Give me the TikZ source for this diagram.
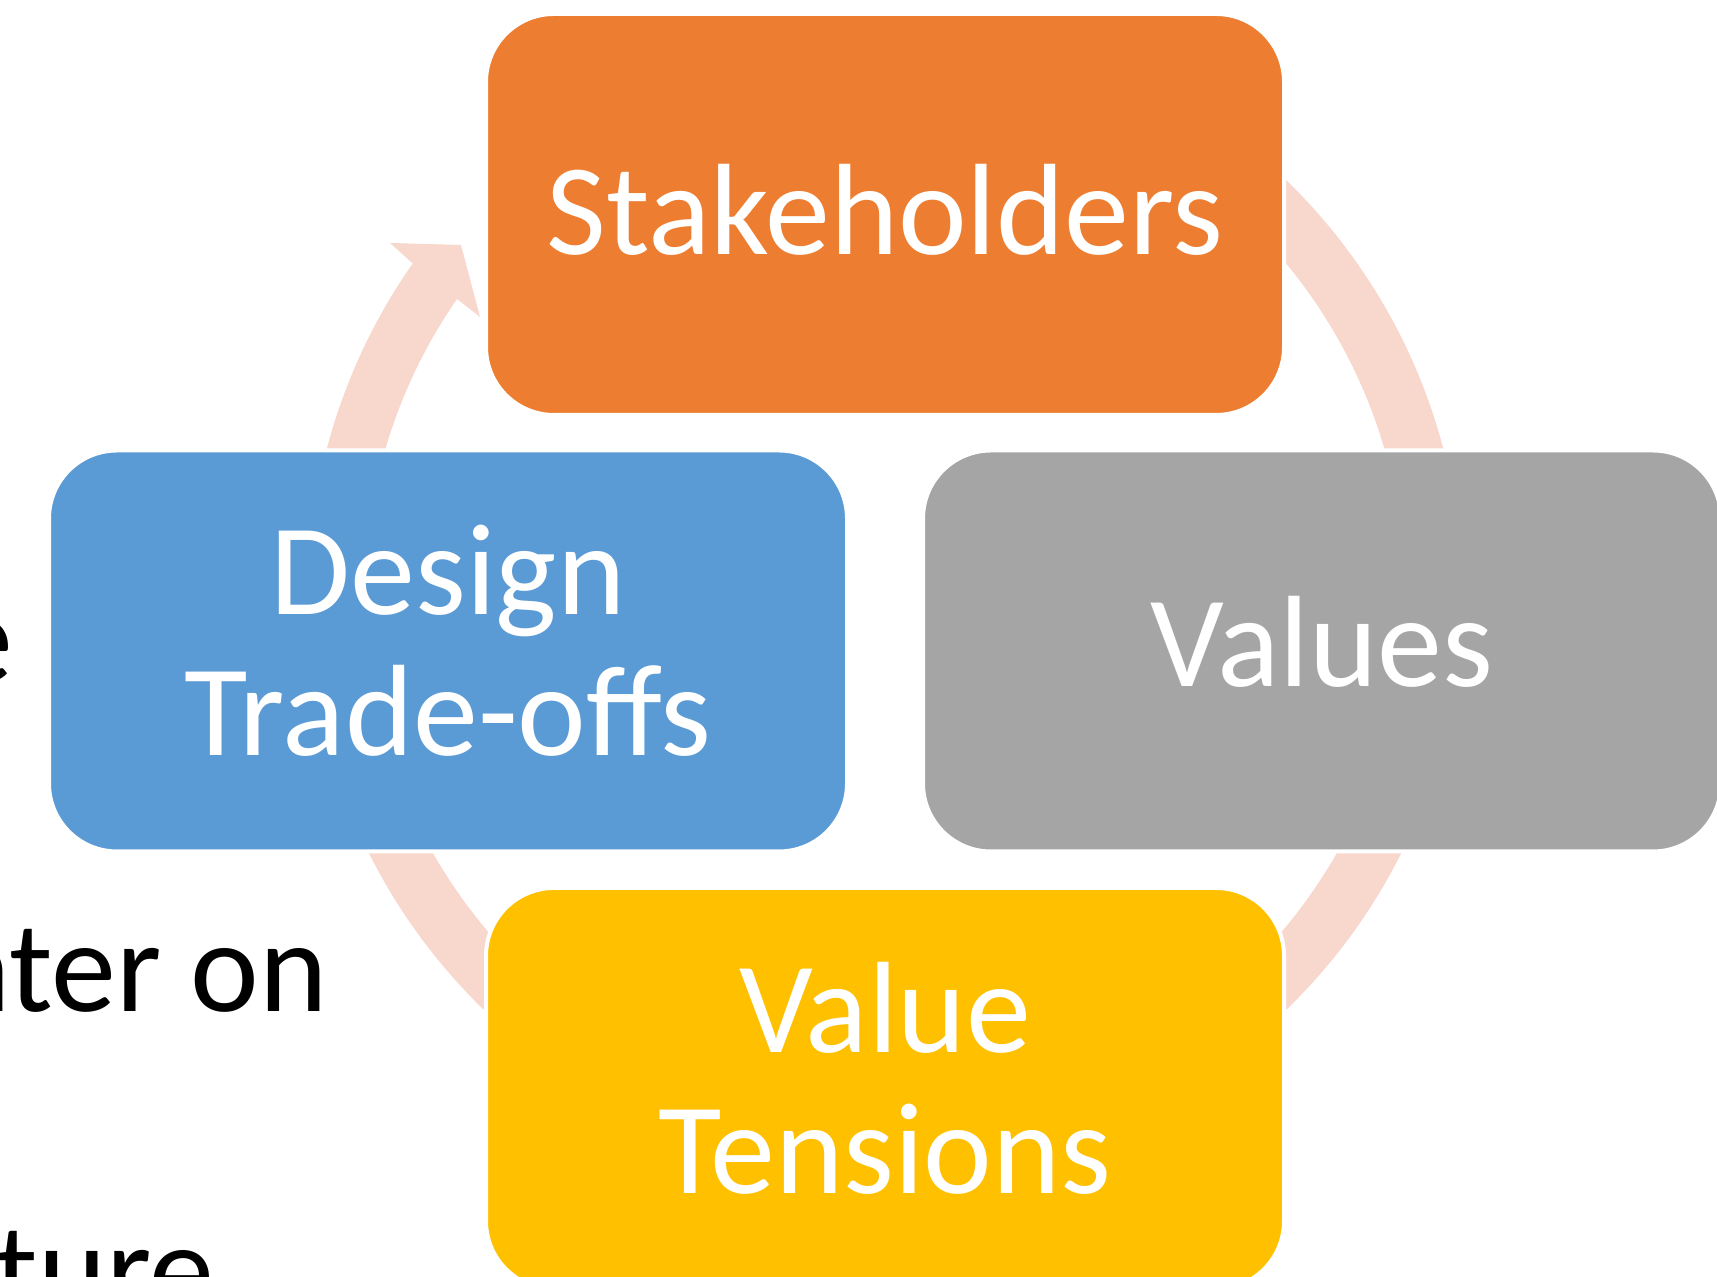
\documentclass[tikz,border=0pt]{standalone}
\usepackage{fontspec}
\setmainfont{Carlito}
\usetikzlibrary{calc}
\definecolor{cOrange}{HTML}{ED7D31}
\definecolor{cBlue}{HTML}{5B9BD5}
\definecolor{cGray}{HTML}{A5A5A5}
\definecolor{cGold}{HTML}{FFC000}
\definecolor{cRing}{HTML}{F8D7CD}
\begin{document}
\begin{tikzpicture}[x=0.5pt,y=0.5pt,
  box/.style={rectangle, rounded corners=34pt, minimum width=399pt, minimum height=200.5pt, draw=white, line width=2pt, inner sep=0pt},
  lbl/.style={text=white, font=\fontsize{65}{70.5}\selectfont, inner sep=0pt, align=center},
  bgtext/.style={text=black, font=\fontsize{65}{70.5}\selectfont, inner sep=0pt},
  ringband/.style={fill=cRing}]
\useasboundingbox (0,0) rectangle (1717,1277);
\clip (0,0) rectangle (1717,1277);
% background slide text (partly hidden)
\node[bgtext, anchor=base east] (bgA) at (14,594) {e};
\node[bgtext, anchor=base east] (bgB) at (328,265) {nter on};
\node[bgtext, anchor=base east] (bgC) at (215,-37) {ture};
% circular arrow
\coordinate (C) at (885,682);
\fill[ringband] ($(C)+(80:577)$) arc[start angle=80,end angle=-215.07,radius=577]
  -- (390,1034) -- (461,1032) -- (480,960) -- (457,978)
  arc[start angle=-214.67,end angle=80,radius=520.4] -- cycle;
% boxes
\node[box, fill=cOrange] (s) at (885,1062.5) {};
\node[box, fill=cBlue]   (d) at (448,626) {};
\node[box, fill=cGray]   (v) at (1322,626) {};
\node[box, fill=cGold]   (t) at (885,188.5) {};
% labels (base anchor = baseline of last line)
\node[lbl, anchor=base] (sl) at (885,1022) {Stakeholders};
\node[lbl, anchor=base] (dl) at (448,521) {Design\\Trade-offs};
\node[lbl, anchor=base] (vl) at (1322,590) {Values};
\node[lbl, anchor=base] (tl) at (885,83) {Value\\Tensions};
\end{tikzpicture}
\end{document}
